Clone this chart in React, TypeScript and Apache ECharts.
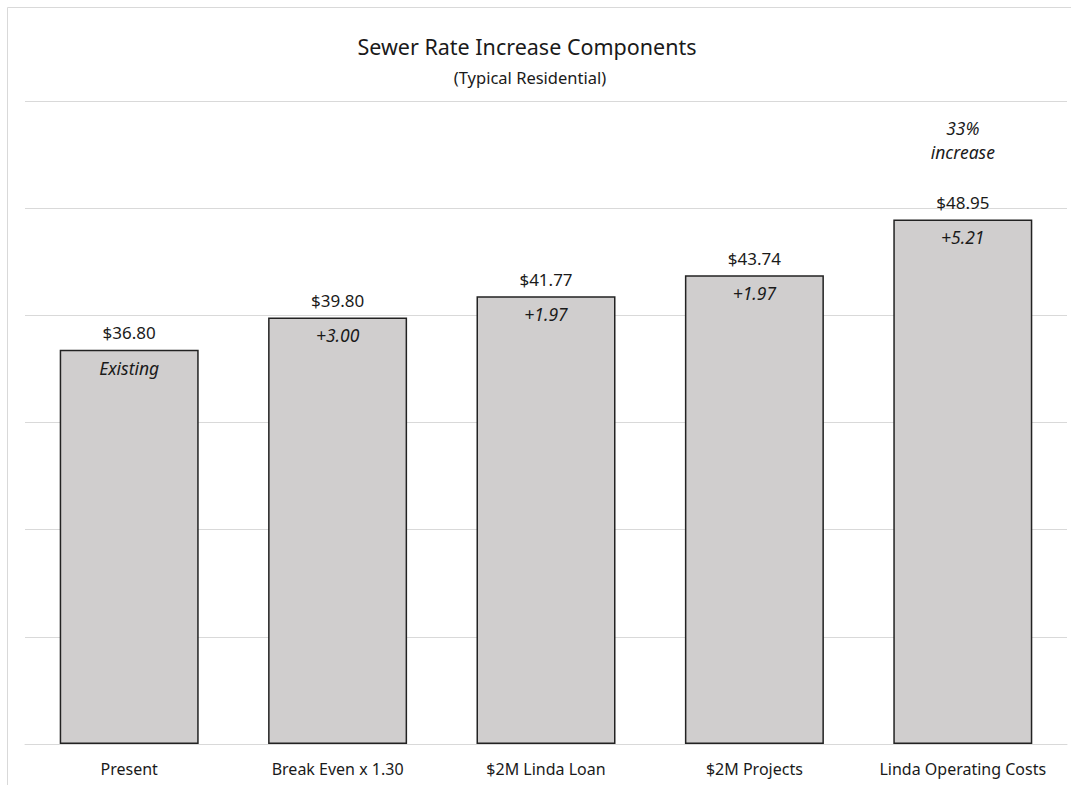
import React, { useEffect, useRef } from "react";
import * as echarts from "echarts";

const categories = [
  "Present",
  "Break Even x 1.30",
  "$2M Linda Loan",
  "$2M Projects",
  "Linda Operating Costs",
];
const totals = [36.8, 39.8, 41.77, 43.74, 48.95];
const insideLabels = ["Existing", "+3.00", "+1.97", "+1.97", "+5.21"];
const notes = ["", "", "", "", "33%\nincrease"];
const yMin = 0;
const yMax = 60;
const yInterval = 10;

const FONT = "'Noto Sans', 'Open Sans', sans-serif";
const TEXT = "#1a1a1a";

export default function App() {
  const ref = useRef<HTMLDivElement>(null);

  useEffect(() => {
    if (!ref.current) return;
    const chart = echarts.init(ref.current, undefined, { renderer: "svg" });
    const option = {
      animation: false,
      backgroundColor: "#ffffff",
      textStyle: { fontFamily: FONT, color: TEXT },
      graphic: [
        {
          type: "rect",
          shape: { x: 7.5, y: 7.5, width: 1080, height: 800 },
          style: { fill: "none", stroke: "#d9d9d9", lineWidth: 1 },
          silent: true,
        },
        {
          type: "text",
          x: 527,
          y: 46,
          style: {
            text: "Sewer Rate Increase Components",
            align: "center",
            verticalAlign: "middle",
            textAlign: "center",
            textVerticalAlign: "middle",
            fontSize: 21.5,
            fontFamily: FONT,
            fill: TEXT,
          },
        },
        {
          type: "text",
          x: 530,
          y: 77,
          style: {
            text: "(Typical Residential)",
            align: "center",
            verticalAlign: "middle",
            textAlign: "center",
            textVerticalAlign: "middle",
            fontSize: 16.5,
            fontFamily: FONT,
            fill: TEXT,
          },
        },
      ],
      grid: { left: 25, right: 4, top: 101, bottom: 41, containLabel: false },
      xAxis: {
        type: "category",
        data: categories,
        axisLine: { show: true, lineStyle: { color: "#d9d9d9", width: 1 } },
        axisTick: { show: false },
        axisLabel: {
          margin: 16,
          fontSize: 16,
          lineHeight: 18,
          color: TEXT,
          fontFamily: FONT,
          interval: 0,
        },
      },
      yAxis: {
        type: "value",
        min: yMin,
        max: yMax,
        interval: yInterval,
        axisLine: { show: false },
        axisTick: { show: false },
        axisLabel: { show: false },
        splitLine: { show: true, lineStyle: { color: "#d9d9d9", width: 1 } },
      },
      series: [
        {
          type: "bar",
          data: totals,
          barWidth: "66.7%",
          barGap: "-100%",
          itemStyle: { color: "#D0CECE", borderColor: "#222222", borderWidth: 1.5 },
          label: {
            show: true,
            position: "top",
            distance: 6,
            formatter: (p: any) => {
              const val = "{val|$" + Number(p.value).toFixed(2) + "}";
              const note = notes[p.dataIndex];
              if (!note) return val;
              const lines = note.split("\n").map((l) => "{note|" + l + "}");
              return lines.join("\n") + "\n{gap| }\n" + val;
            },
            rich: {
              val: { fontSize: 17, lineHeight: 22, color: TEXT, fontFamily: FONT },
              note: {
                fontSize: 17.5,
                lineHeight: 24,
                fontStyle: "italic",
                color: TEXT,
                fontFamily: FONT,
              },
              gap: { fontSize: 10, lineHeight: 27 },
            },
          },
        },
        {
          type: "bar",
          data: totals,
          barWidth: "66.7%",
          barGap: "-100%",
          silent: true,
          itemStyle: { color: "rgba(0,0,0,0)", borderWidth: 0 },
          label: {
            show: true,
            position: "insideTop",
            distance: 8,
            fontSize: 17.5,
            lineHeight: 20,
            fontStyle: "italic",
            color: TEXT,
            fontFamily: FONT,
            formatter: (p: any) => insideLabels[p.dataIndex],
          },
        },
      ],
    };
    chart.setOption(option as any);
    return () => chart.dispose();
  }, []);

  return (
    <div
      ref={ref}
      style={{ position: "absolute", left: 0, top: 0, width: 1071, height: 785 }}
    />
  );
}
